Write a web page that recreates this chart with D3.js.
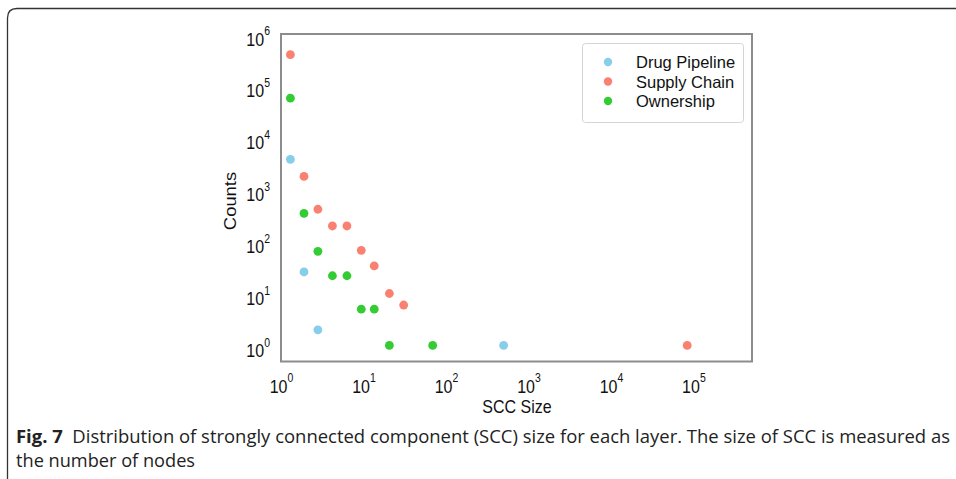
<!DOCTYPE html>
<html>
<head>
<meta charset="utf-8">
<script src="https://cdn.jsdelivr.net/npm/d3@7"></script>
<style>
  html, body { margin: 0; padding: 0; background: #fff; }
  svg { display: block; }
</style>
</head>
<body>
<div id="chart"></div>
<script>
// Data
const seriesNames = ["Drug Pipeline", "Supply Chain", "Ownership"];
const seriesColors = ["#87CEEB", "#FA8072", "#33CC33"];

const drugSize = [1.3, 1.9, 2.8, 500];
const drugCount = [3850, 26, 2, 1];

const supplySize = [1.3, 1.9, 2.8, 4.2, 6.3, 9.4, 13.5, 20.6, 30.7, 84000];
const supplyCount = [400000, 1800, 420, 200, 200, 68, 34, 10, 6, 1];

const ownerSize = [1.3, 1.9, 2.8, 4.2, 6.3, 9.4, 13.5, 20.6, 69];
const ownerCount = [58000, 350, 65, 22, 22, 5, 5, 1, 1];

const xTickExp = [0, 1, 2, 3, 4, 5];
const yTickExp = [0, 1, 2, 3, 4, 5, 6];

const captionBold = "Fig. 7";
const captionLine1 = "Distribution of strongly connected component (SCC) size for each layer. The size of SCC is measured as";
const captionLine2 = "the number of nodes";

// Dimensions
const width = 956;
const height = 479;
const plot = { left: 281, right: 752, top: 34, bottom: 361.5 };
const sy = 1.15; // the figure's text is stretched vertically a little

const svg = d3.select("#chart").append("svg")
  .attr("width", width)
  .attr("height", height)
  .attr("font-family", "'Liberation Sans', Arial, sans-serif");

// Outer panel frame (rounded top-left corner)
svg.append("path")
  .attr("d", "M7.5,479 L7.5,18 Q7.5,8.5 17,8.5 L956,8.5")
  .attr("fill", "none")
  .attr("stroke", "#333")
  .attr("stroke-width", 1.3);

// Scales
const x = d3.scaleLog().domain([1, Math.pow(10, 5.71)]).range([plot.left, plot.right]);
const y = d3.scaleLog().domain([Math.pow(10, -0.31), 1e6]).range([plot.bottom, plot.top]);

// Axes (labels drawn as 10 + superscript)
const xAxis = svg.append("g")
  .attr("transform", `translate(0,${plot.bottom})`)
  .call(d3.axisBottom(x).tickValues(xTickExp.map(e => Math.pow(10, e))).tickSize(0).tickFormat(""));
xAxis.select(".domain").remove();
xAxis.selectAll(".tick").each(function (d, i) {
  const t = d3.select(this).append("text")
    .attr("fill", "#111")
    .attr("font-size", 16)
    .attr("text-anchor", "middle")
    .attr("transform", `translate(0,31) scale(1,${sy})`);
  t.append("tspan").text("10");
  t.append("tspan").attr("font-size", 10.5).attr("dy", -9).text(xTickExp[i]);
});

const yAxis = svg.append("g")
  .attr("transform", `translate(${plot.left},0)`)
  .call(d3.axisLeft(y).tickValues(yTickExp.map(e => Math.pow(10, e))).tickSize(0).tickFormat(""));
yAxis.select(".domain").remove();
yAxis.selectAll(".tick").each(function (d, i) {
  const t = d3.select(this).append("text")
    .attr("fill", "#111")
    .attr("font-size", 16)
    .attr("text-anchor", "end")
    .attr("transform", `translate(-11,11) scale(1,${sy})`);
  t.append("tspan").text("10");
  t.append("tspan").attr("font-size", 10.5).attr("dy", -9).text(yTickExp[i]);
});

// Plot frame
svg.append("rect")
  .attr("x", plot.left)
  .attr("y", plot.top)
  .attr("width", plot.right - plot.left)
  .attr("height", plot.bottom - plot.top)
  .attr("fill", "none")
  .attr("stroke", "#8c8c8c")
  .attr("stroke-width", 2);

// Axis titles
svg.append("text")
  .attr("transform", `translate(517,413) scale(1,${sy})`)
  .attr("text-anchor", "middle")
  .attr("font-size", 16)
  .attr("fill", "#111")
  .text("SCC Size");

svg.append("text")
  .attr("transform", `translate(236,201) rotate(-90) scale(${sy},1)`)
  .attr("text-anchor", "middle")
  .attr("font-size", 16)
  .attr("fill", "#111")
  .text("Counts");

// Points
const series = [
  { name: seriesNames[0], color: seriesColors[0], xs: drugSize, ys: drugCount },
  { name: seriesNames[1], color: seriesColors[1], xs: supplySize, ys: supplyCount },
  { name: seriesNames[2], color: seriesColors[2], xs: ownerSize, ys: ownerCount }
];

svg.append("g")
  .selectAll("g")
  .data(series)
  .join("g")
  .attr("fill", d => d.color)
  .selectAll("circle")
  .data(d => d.xs.map((v, i) => ({ x: v, y: d.ys[i] })))
  .join("circle")
  .attr("cx", d => x(d.x))
  .attr("cy", d => y(d.y))
  .attr("r", 4.4);

// Legend
const legend = svg.append("g");
legend.append("rect")
  .attr("x", 582.5)
  .attr("y", 43.5)
  .attr("width", 161)
  .attr("height", 79)
  .attr("rx", 3)
  .attr("fill", "#fff")
  .attr("stroke", "#d4d4d4");

const legendItem = legend.selectAll("g.item")
  .data(series)
  .join("g")
  .attr("class", "item")
  .attr("transform", (d, i) => `translate(608,${62 + i * 19.5})`);

legendItem.append("circle")
  .attr("r", 4.2)
  .attr("fill", d => d.color);

legendItem.append("text")
  .attr("x", 28)
  .attr("y", 6)
  .attr("font-size", 16.5)
  .attr("fill", "#111")
  .text(d => d.name);

// Caption
const cap = svg.append("g")
  .attr("font-family", "'Open Sans', 'Noto Sans', sans-serif")
  .attr("font-size", 18.5)
  .attr("fill", "#222");

const line1 = cap.append("text")
  .attr("x", 16)
  .attr("y", 443)
  .attr("textLength", 934)
  .attr("lengthAdjust", "spacingAndGlyphs");
line1.append("tspan").attr("font-weight", "bold").text(captionBold);
line1.append("tspan").text("\u00a0 " + captionLine1);

cap.append("text")
  .attr("x", 16)
  .attr("y", 467)
  .attr("textLength", 179)
  .attr("lengthAdjust", "spacingAndGlyphs")
  .text(captionLine2);
</script>
</body>
</html>
